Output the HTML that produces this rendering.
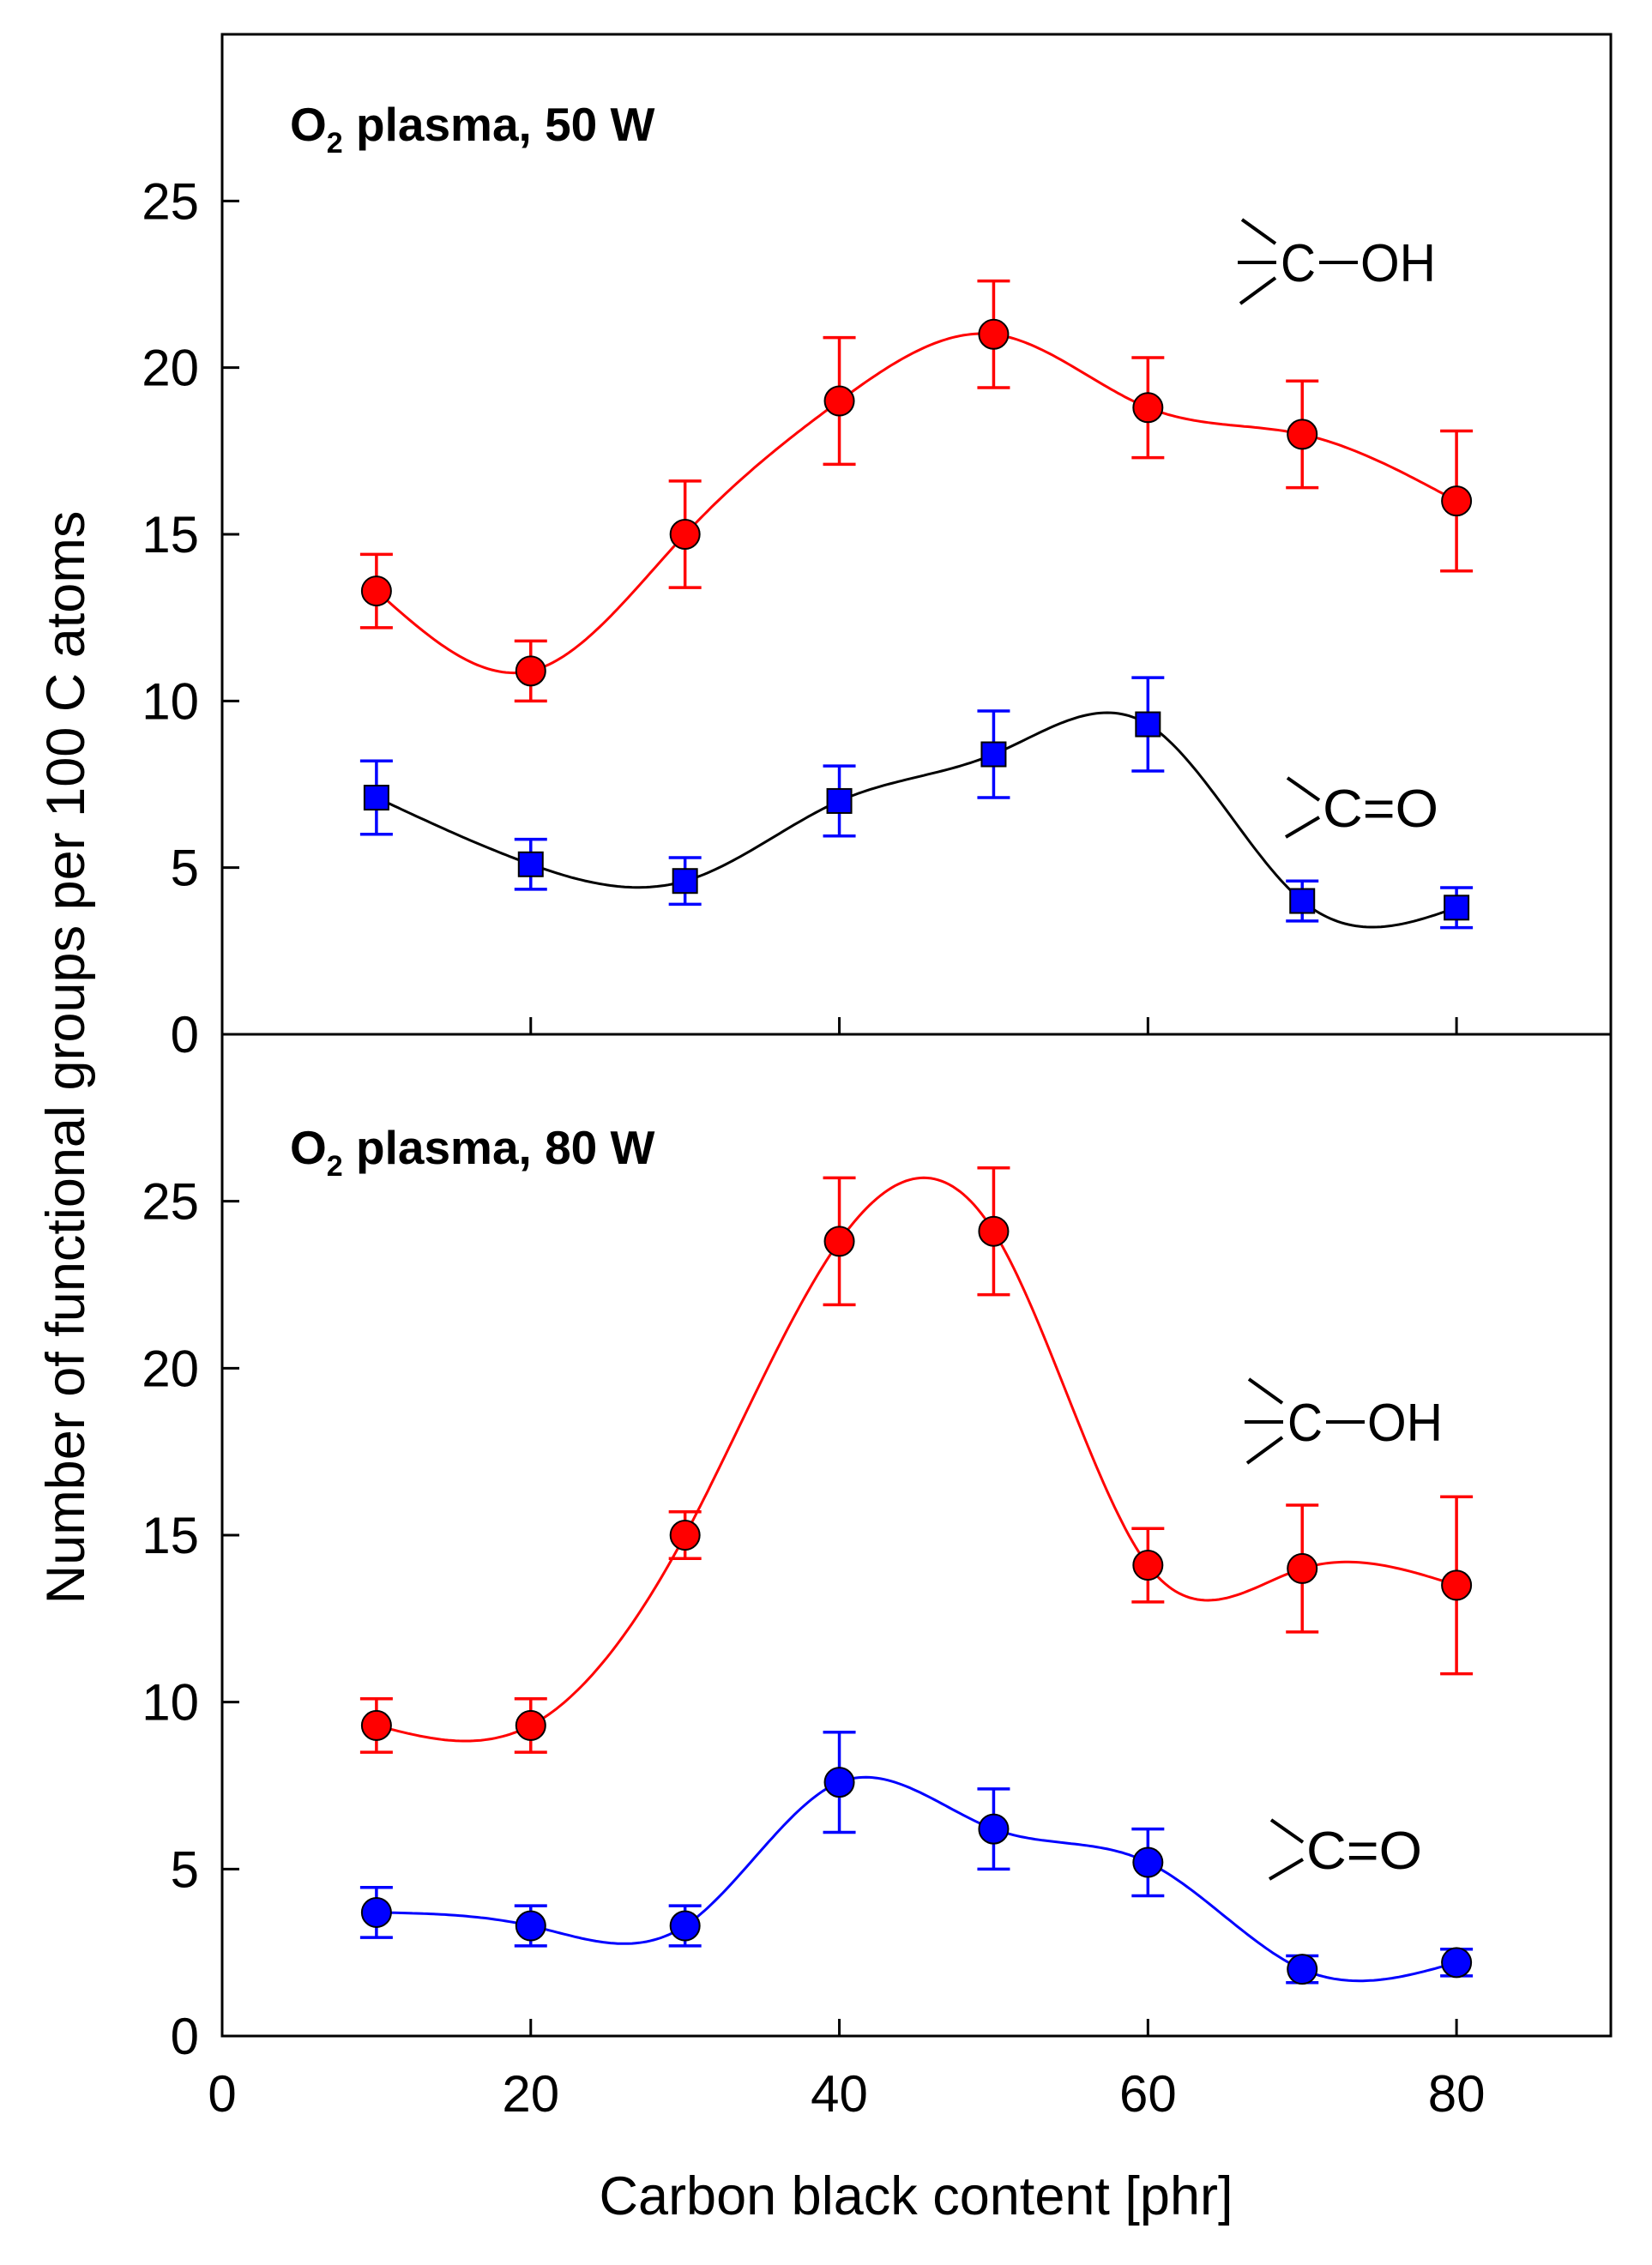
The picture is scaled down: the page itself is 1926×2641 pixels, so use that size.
<!DOCTYPE html>
<html><head><meta charset="utf-8"><style>
html,body{margin:0;padding:0;background:#fff}
svg{display:block}
text{font-family:"Liberation Sans",Arial,sans-serif}
</style></head><body>
<svg id="chart" width="1926" height="2641" viewBox="0 0 1926 2641" xmlns="http://www.w3.org/2000/svg"></svg>
<script>
const xValues = [10,20,30,40,50,60,70,80];
const xTicks = [0,20,40,60,80];
const yTicks = [0,5,10,15,20,25];
// Top panel (50 W)
const cohTop = [13.3,10.9,15.0,19.0,21.0,18.8,18.0,16.0];
const cohTopErr = [1.1,0.9,1.6,1.9,1.6,1.5,1.6,2.1];
const coTop = [7.1,5.1,4.6,7.0,8.4,9.3,4.0,3.8];
const coTopErr = [1.1,0.75,0.7,1.05,1.3,1.4,0.6,0.6];
// Bottom panel (80 W)
const cohBot = [9.3,9.3,15.0,23.8,24.1,14.1,14.0,13.5];
const cohBotErr = [0.8,0.8,0.7,1.9,1.9,1.1,1.9,2.65];
const coBot = [3.7,3.3,3.3,7.6,6.2,5.2,2.0,2.2];
const coBotErr = [0.75,0.6,0.6,1.5,1.2,1.0,0.4,0.4];

const NS='http://www.w3.org/2000/svg';
const svg=document.getElementById('chart');
const L=259,R=1878,XMAX=90,YMAX=30;
function xs(v){return L+(R-L)*v/XMAX;}
function mk(tag,attrs,parent){const e=document.createElementNS(NS,tag);for(const k in attrs)e.setAttribute(k,attrs[k]);(parent||svg).appendChild(e);return e;}

function spline(xv,yv){
  const n=xv.length,h=[],a=[],l=[1],mu=[0],z=[0],c=new Array(n).fill(0),b=[],d=[];
  for(let i=0;i<n-1;i++)h.push(xv[i+1]-xv[i]);
  for(let i=1;i<n-1;i++)a[i]=3/h[i]*(yv[i+1]-yv[i])-3/h[i-1]*(yv[i]-yv[i-1]);
  for(let i=1;i<n-1;i++){l[i]=2*(xv[i+1]-xv[i-1])-h[i-1]*mu[i-1];mu[i]=h[i]/l[i];z[i]=(a[i]-h[i-1]*z[i-1])/l[i];}
  l[n-1]=1;z[n-1]=0;
  for(let j=n-2;j>=0;j--){c[j]=z[j]-mu[j]*c[j+1];b[j]=(yv[j+1]-yv[j])/h[j]-h[j]*(c[j+1]+2*c[j])/3;d[j]=(c[j+1]-c[j])/(3*h[j]);}
  return t=>{let j=0;while(j<n-2&&t>xv[j+1])j++;const dx=t-xv[j];return yv[j]+b[j]*dx+c[j]*dx*dx+d[j]*dx*dx*dx;};
}

function chem(g,cx,by,oh){
  const st={stroke:'#000','stroke-width':4,'stroke-linecap':'butt'};
  if(oh){
    let e=mk('line',Object.assign({x1:cx-45,y1:by-72,x2:cx-6,y2:by-44},st),g);
    
    e=mk('line',Object.assign({x1:cx-50,y1:by-22,x2:cx-5,y2:by-22},st),g);
    
    e=mk('line',Object.assign({x1:cx-47,y1:by+26,x2:cx-6,y2:by-4},st),g);
    
    e=mk('line',Object.assign({x1:cx+45,y1:by-22,x2:cx+90,y2:by-22},st),g);
    
    let t=mk('text',{x:cx,y:by,'font-size':62,textLength:41,lengthAdjust:'spacingAndGlyphs'},g);t.textContent='C';
    
    t=mk('text',{x:cx+93,y:by,'font-size':62,textLength:88,lengthAdjust:'spacingAndGlyphs'},g);t.textContent='OH';
    
  } else {
    let e=mk('line',Object.assign({x1:cx-41,y1:by-57,x2:cx-4,y2:by-31},st),g);
    
    e=mk('line',Object.assign({x1:cx-43,y1:by+12,x2:cx-4,y2:by-11},st),g);
    
    let t=mk('text',{x:cx,y:by,'font-size':62,textLength:135,lengthAdjust:'spacingAndGlyphs'},g);t.textContent='C=O';
    
  }
}

function panel(name,top,bot,series,title,titleY,chems,bottomAxis){
  const g=mk('g',{});
  
  const ys=v=>bot-(bot-top)*v/YMAX;
  const frame=mk('rect',{x:L,y:top,width:R-L,height:bot-top,fill:'none',stroke:'#000','stroke-width':3},g);
  
  yTicks.forEach(v=>{
    const t=mk('line',{x1:L,x2:L+20,y1:ys(v),y2:ys(v),stroke:'#000','stroke-width':3},g);
    
    const lb=mk('text',{x:232,y:ys(v)+21,'font-size':60,'text-anchor':'end'},g);lb.textContent=v;
    
  });
  xTicks.forEach(v=>{
    if(v===0)return;
    const t=mk('line',{x1:xs(v),x2:xs(v),y1:bot,y2:bot-20,stroke:'#000','stroke-width':3},g);
    
    if(bottomAxis){
      const lb=mk('text',{x:xs(v),y:bot+88,'font-size':60,'text-anchor':'middle'},g);lb.textContent=v;
      
    }
  });
  if(bottomAxis){
    const lb=mk('text',{x:xs(0),y:bot+88,'font-size':60,'text-anchor':'middle'},g);lb.textContent='0';
    
  }
  const tt=mk('text',{x:338,y:titleY,'font-size':55,'font-weight':'bold'},g);
  
  const t1=mk('tspan',{},tt);t1.textContent='O';
  const t2=mk('tspan',{'font-size':34,dy:14},tt);t2.textContent='2';
  const t3=mk('tspan',{dy:-14},tt);t3.textContent=title;
  series.forEach(s=>{
    const sg=mk('g',{},g);
    
    const f=spline(xValues,s.vals);
    let d='';
    for(let i=0;i<=300;i++){const t=xValues[0]+(xValues[xValues.length-1]-xValues[0])*i/300;d+=(i?'L':'M')+xs(t).toFixed(1)+','+ys(f(t)).toFixed(1);}
    const p=mk('path',{d:d,fill:'none',stroke:s.line,'stroke-width':3},sg);
    
    xValues.forEach((xv,i)=>{
      const x=xs(xv),y1=ys(s.vals[i]-s.err[i]),y2=ys(s.vals[i]+s.err[i]);
      const eb=mk('path',{d:`M${x},${y1}V${y2}M${x-19},${y1}H${x+19}M${x-19},${y2}H${x+19}`,stroke:s.err_c,'stroke-width':3.5,fill:'none'},sg);
      
    });
    xValues.forEach((xv,i)=>{
      const x=xs(xv),y=ys(s.vals[i]);
      let m;
      if(s.square) m=mk('rect',{x:x-14,y:y-14,width:28,height:28,fill:s.fill,stroke:'#000','stroke-width':2},sg);
      else m=mk('circle',{cx:x,cy:y,r:17,fill:s.fill,stroke:'#000','stroke-width':2},sg);
      
    });
  });
  chems.forEach(c=>{
    const cg=mk('g',{},g);
    
    chem(cg,c.x,c.y,c.oh);
  });
}

panel('panel-50w',40,1206,[
  {name:'coh-series-50w',vals:cohTop,err:cohTopErr,line:'#ff0000',err_c:'#ff0000',fill:'#ff0000',square:false},
  {name:'co-series-50w',vals:coTop,err:coTopErr,line:'#000000',err_c:'#0000ff',fill:'#0000ff',square:true}
],' plasma, 50 W',164,[{x:1493,y:328,oh:true},{x:1542,y:964,oh:false}],false);

panel('panel-80w',1206,2374,[
  {name:'coh-series-80w',vals:cohBot,err:cohBotErr,line:'#ff0000',err_c:'#ff0000',fill:'#ff0000',square:false},
  {name:'co-series-80w',vals:coBot,err:coBotErr,line:'#0000ff',err_c:'#0000ff',fill:'#0000ff',square:false}
],' plasma, 80 W',1357,[{x:1501,y:1680,oh:true},{x:1523,y:2179,oh:false}],true);

const xt=mk('text',{x:1068,y:2582,'font-size':63,'text-anchor':'middle'});
xt.textContent='Carbon black content [phr]';

const yt=mk('text',{x:0,y:0,'font-size':63,'text-anchor':'middle',transform:'translate(98,1233) rotate(-90)'});
yt.textContent='Number of functional groups per 100 C atoms';

</script>
</body></html>
